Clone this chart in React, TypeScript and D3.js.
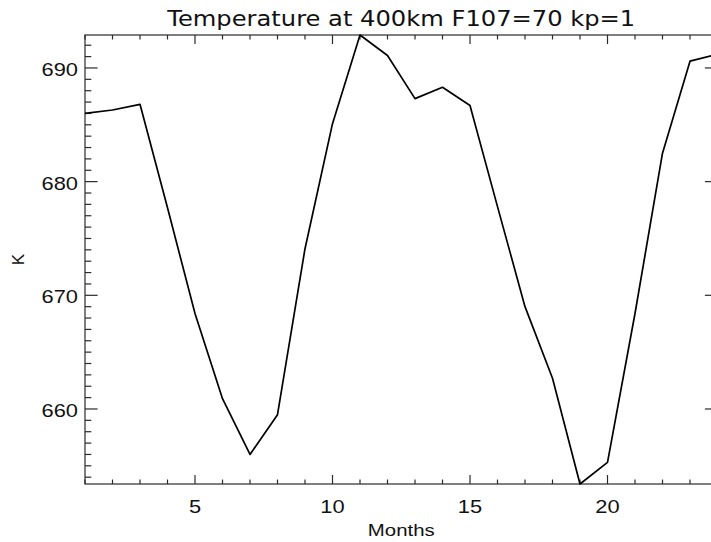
import React from "react";
import * as d3 from "d3";

const months = [1,2,3,4,5,6,7,8,9,10,11,12,13,14,15,16,17,18,19,20,21,22,23,24];
const temperature = [686.0,686.3,686.8,677.7,668.4,660.9,656.0,659.5,674.1,685.1,692.9,691.1,687.3,688.3,686.7,677.8,669.0,662.7,653.4,655.3,668.4,682.5,690.6,691.2];
const xMajorTicks = [5,10,15,20];
const yMajorTicks = [660,670,680,690];
const titleText = "Temperature at 400km F107=70 kp=1";
const xTitle = "Months";
const yTitle = "K";

const W = 711, H = 542;
const M = { left: 85, right: 717.5, top: 35, bottom: 484 };

export default function App() {
  const x = d3.scaleLinear().domain([1, 24]).range([M.left, M.right]);
  const ext = d3.extent(temperature) as [number, number];
  const y = d3.scaleLinear().domain(ext).range([M.bottom, M.top]);
  const line = d3.line<number>().x((_, i) => x(months[i])).y((d) => y(d));

  const xMinor = d3.range(Math.ceil(1), 25, 1).filter((v) => !xMajorTicks.includes(v));
  const yMinor = d3.range(Math.ceil(ext[0]), Math.floor(ext[1]) + 1, 1).filter((v) => !yMajorTicks.includes(v));

  const ax = "#2a2a2a";
  const xMajLen = 9, xMinLen = 4.5, yMajLen = 12.6, yMinLen = 6.3;
  const tickFont = "'Liberation Sans', Arial, sans-serif";

  return (
    <svg width={W} height={H} style={{ position: "absolute", left: 0, top: 0, background: "#fff" }}>
      <rect x={0} y={0} width={W} height={H} fill="#fff" />
      <text x={(M.left + M.right) / 2} y={26} textAnchor="middle" fontFamily="'DejaVu Sans', sans-serif" fontSize={21} fill="#111" textLength={468} lengthAdjust="spacingAndGlyphs">{titleText}</text>
      {/* frame */}
      <rect x={M.left} y={M.top} width={M.right - M.left} height={M.bottom - M.top} fill="none" stroke={ax} strokeWidth={1.2} />
      {/* x ticks bottom & top */}
      {xMajorTicks.map((t) => (
        <g key={"xm" + t}>
          <line x1={x(t)} x2={x(t)} y1={M.bottom} y2={M.bottom - xMajLen} stroke={ax} strokeWidth={1.2} />
          <line x1={x(t)} x2={x(t)} y1={M.top} y2={M.top + xMajLen} stroke={ax} strokeWidth={1.2} />
          <text transform={`translate(${x(t)},513) scale(1.25,1)`} textAnchor="middle" fontFamily={tickFont} fontSize={17.5} fill="#111">{t}</text>
        </g>
      ))}
      {xMinor.map((t) => (
        <g key={"xn" + t}>
          <line x1={x(t)} x2={x(t)} y1={M.bottom} y2={M.bottom - xMinLen} stroke={ax} strokeWidth={1.2} />
          <line x1={x(t)} x2={x(t)} y1={M.top} y2={M.top + xMinLen} stroke={ax} strokeWidth={1.2} />
        </g>
      ))}
      {/* y ticks left & right */}
      {yMajorTicks.map((t) => (
        <g key={"ym" + t}>
          <line x1={M.left} x2={M.left + yMajLen} y1={y(t)} y2={y(t)} stroke={ax} strokeWidth={1.2} />
          <line x1={M.right} x2={M.right - yMajLen} y1={y(t)} y2={y(t)} stroke={ax} strokeWidth={1.2} />
          <text transform={`translate(78,${y(t) + 8}) scale(1.25,1)`} textAnchor="end" fontFamily={tickFont} fontSize={17.5} fill="#111">{t}</text>
        </g>
      ))}
      {yMinor.map((t) => (
        <g key={"yn" + t}>
          <line x1={M.left} x2={M.left + yMinLen} y1={y(t)} y2={y(t)} stroke={ax} strokeWidth={1.2} />
          <line x1={M.right} x2={M.right - yMinLen} y1={y(t)} y2={y(t)} stroke={ax} strokeWidth={1.2} />
        </g>
      ))}
      <text transform={`translate(${(M.left + M.right) / 2},536) scale(1.2,1)`} textAnchor="middle" fontFamily={tickFont} fontSize={17} fill="#111">{xTitle}</text>
      <text transform={`translate(24,${(M.top + M.bottom) / 2}) rotate(-90)`} textAnchor="middle" fontFamily={tickFont} fontSize={17} fill="#111">{yTitle}</text>
      <path d={line(temperature) || ""} fill="none" stroke="#000" strokeWidth={1.7} strokeLinejoin="round" />
    </svg>
  );
}
